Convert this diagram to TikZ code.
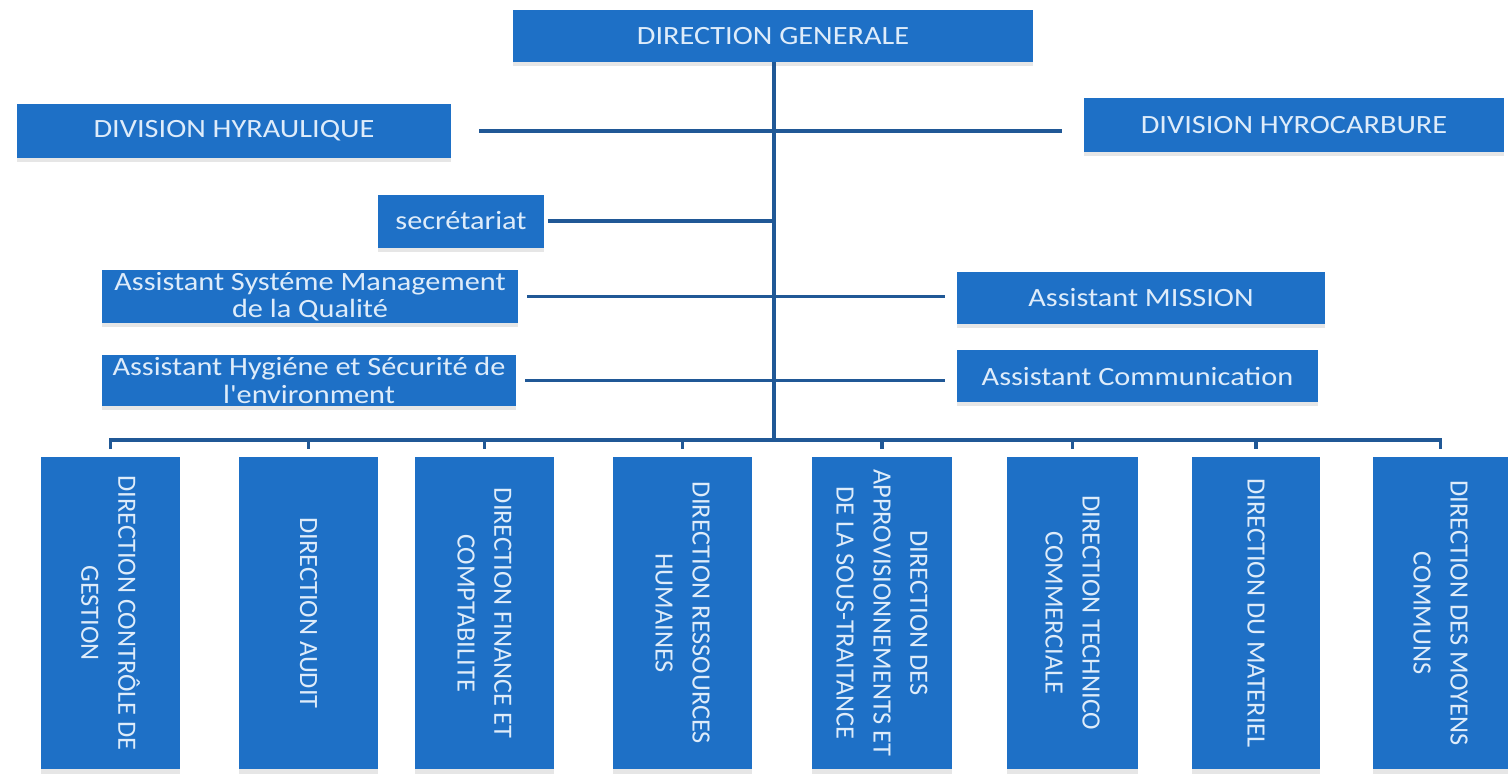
\documentclass[tikz,border=0pt]{standalone}
\usepackage{fontspec}
\setmainfont{Carlito}
\newfontfamily\widefont[FakeStretch=1.15]{Carlito}
\usepackage{tikz}
\usetikzlibrary{positioning,calc,shadows}
\definecolor{orgblue}{RGB}{30,112,198}
\definecolor{orgtext}{RGB}{222,236,250}
\definecolor{orgline}{RGB}{32,88,150}

\begin{document}
\begin{tikzpicture}[x=0.02cm, y=-0.02cm,
    hbox/.style={fill=orgblue, text=orgtext, inner sep=1pt, align=center,
        font=\widefont\fontsize{15}{15.5}\selectfont,
        drop shadow={shadow xshift=0pt, shadow yshift=-2.5pt, opacity=0.2}},
    vbox/.style={hbox, rotate=-90, minimum width=6.26cm, minimum height=2.8cm,
        font=\fontsize{15}{21}\selectfont},
    link/.style={draw=orgline, line width=2pt}]
    \useasboundingbox (0,0) rectangle (1510,778);

    \node (dg) [hbox, minimum width=10.4cm, minimum height=1.04cm] at (773,36) {DIRECTION GENERALE};
    \node (hyd) [hbox, minimum width=8.68cm, minimum height=1.08cm] at (234,131) {DIVISION HYRAULIQUE};
    \node (hyc) [hbox, minimum width=8.4cm, minimum height=1.08cm] at (1294,125) {DIVISION HYROCARBURE};
    \node (sec) [hbox, minimum width=3.34cm, minimum height=1.06cm] at (461,221) {secrétariat};
    \node (smq) [hbox, minimum width=8.32cm, minimum height=1.02cm] at (310,296.5) {Assistant Systéme Management\\de la Qualité};
    \node (hse) [hbox, minimum width=8.28cm, minimum height=1.02cm] at (309,380.5) {Assistant Hygiéne et Sécurité de\\l'environment};
    \node (mis) [hbox, minimum width=7.36cm, minimum height=1.04cm] at (1141,298) {Assistant MISSION};
    \node (com) [hbox, minimum width=7.22cm, minimum height=1.04cm] at (1137.5,376) {Assistant Communication};

    \coordinate (hub) at (774,440);

    \node (b1) [vbox] at (110.5,613) {DIRECTION CONTRÔLE DE\\GESTION};
    \node (b2) [vbox] at (308.5,613) {DIRECTION AUDIT};
    \node (b3) [vbox] at (484.5,613) {DIRECTION FINANCE ET\\COMPTABILITE};
    \node (b4) [vbox] at (682.5,613) {DIRECTION RESSOURCES\\HUMAINES};
    \node (b5) [vbox] at (882,613) {DIRECTION DES\\APPROVISIONNEMENTS ET\\DE LA SOUS-TRAITANCE};
    \node (b6) [vbox, minimum height=2.62cm] at (1072.5,613) {DIRECTION TECHNICO\\COMMERCIALE};
    \node (b7) [vbox, minimum height=2.56cm] at (1256,613) {DIRECTION DU MATERIEL};
    \node (b8) [vbox, minimum height=2.7cm] at (1440.5,613) {DIRECTION DES MOYENS\\COMMUNS};

    \draw[link] (hub |- dg.south) -- (hub);
    \draw[link] ($(hyd.east)+(28,0)$) -- ($(hyd.east -| hyc.west)+(-22,0)$);
    \draw[link] ($(sec.east)+(3,0)$) -- (sec.east -| hub);
    \draw[link] ($(smq.east)+(9,0)$) -- ($(smq.east -| mis.west)+(-12,0)$);
    \draw[link] ($(hse.east)+(9,0)$) -- ($(hse.east -| com.west)+(-12,0)$);

    \draw[link] ($(b1.west)+(0,-7)$) -- (b1.west |- hub) -- (b8.west |- hub) -- ($(b8.west)+(0,-7)$);
    \foreach \b in {b2,b3,b4,b5,b6,b7}
        \draw[link] (\b.west |- hub) -- ($(\b.west)+(0,-7)$);

\end{tikzpicture}
\end{document}
